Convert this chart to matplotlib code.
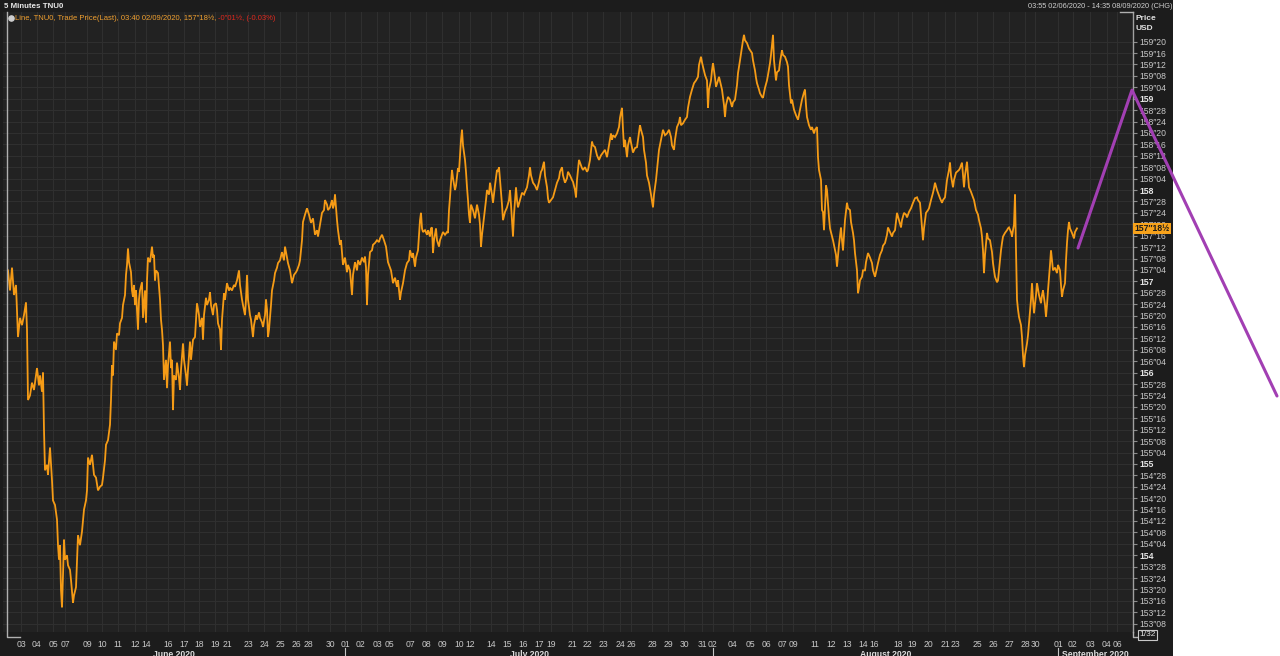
import matplotlib
matplotlib.use("Agg")
import matplotlib.pyplot as plt
from matplotlib.patches import Rectangle
import numpy as np

plt.rcParams['font.family'] = ['Liberation Sans', 'DejaVu Sans']

# ---------------- data (session position along the time axis, price in USD) -------------
t_seg1 = [8,10,12,14,16,18,20,22,24,26,27,28,30,32,34,37,39,40,42,43,44,45,47,48,50,52,53,55,57,58,
          59,60,61,62,63,64,65,67,68,70,71,73,74,76,77,78,80,82,84,86,87,88,90,92,94,96,98,100,102,103,
          105,106,108,110,111,112,113,114,116,117,119,120,122,123,125,126,127,128,129,131,132,133,134,135,136,137,138,139,140,142,
          143,145,146,147,148,150,152,153,154,155,156,158,160,161,162,163,164,166,167,168,170,171,172,173,174,176,177,179,180,181,
          183,184,186,187,188,190,191,193,195,196,197,199,200,202,203,204,206,207,209,210,211,213,214,216,217,218,220,221,222,224,
          225,227,229,230,232,234,235,237,239,240,242,243,245,246,247,248,250,251,253,254,256,257,259,260,262,263,265,266,267,268,
          269,271,272,274,275,277,278,280]
p_seg1 = [157.12,156.90,157.15,156.85,156.96,156.39,156.60,156.52,156.63,156.77,156.47,155.70,155.75,155.89,155.81,156.05,155.86,155.97,155.79,156.00,
          155.37,154.93,154.99,154.88,155.18,154.82,154.60,154.55,154.39,154.11,153.95,154.11,153.62,153.43,153.78,154.17,153.95,154.00,153.89,153.84,
          153.73,153.48,153.56,153.65,153.95,154.22,154.11,154.26,154.50,154.60,154.71,155.07,154.99,155.10,154.88,154.85,154.71,154.75,154.77,154.85,
          155.04,155.21,155.26,155.43,155.70,156.08,155.97,156.34,156.25,156.43,156.41,156.54,156.60,156.74,156.85,157.07,157.18,157.36,157.21,157.10,
          156.90,156.83,156.96,156.74,156.90,156.69,156.47,156.80,156.90,156.99,156.60,156.90,156.55,157.01,157.26,157.21,157.38,157.26,157.29,157.01,
          157.12,157.09,156.80,156.58,156.47,156.30,155.92,156.14,155.83,156.08,156.34,156.05,156.14,155.59,155.97,155.92,156.11,155.94,155.81,156.03,
          156.32,156.14,155.97,155.86,156.03,156.34,156.14,156.36,156.39,156.58,156.76,156.63,156.50,156.60,156.36,156.63,156.82,156.74,156.80,156.88,
          156.74,156.63,156.74,156.76,156.69,156.54,156.47,156.25,156.58,156.87,156.80,156.98,156.90,156.93,156.90,156.96,156.94,157.01,157.12,156.96,
          156.80,156.74,156.63,156.80,157.07,156.80,156.63,156.58,156.39,156.52,156.63,156.58,156.66,156.60,156.55,156.50,156.63,156.80,156.69,156.39,
          156.47,156.74,156.90,157.01,157.09,157.15,157.20,157.23]

t_seg2 = [282,284,285,287,288,290,292,294,296,297,299,300,302,303,305,307,309,311,313,315,317,318,320,322,324,325,327,328,330,332,
          333,334,335,337,338,340,341,343,345,347,348,350,352,353,355,357,358,360,362,364,365,366,367,368,370,372,373,375,377,379,
          380,382,384,386,388,389,391,393,395,397,398,400,401,403,405,407,409,410,412,413,415,416,418,419,420,421,422,423,425,427,
          428,430,431,432,433,434,436,437,439,440,442,443,445,447,448,449,450,451,452,453,455,456,458,459,460,461,462,463,465,466,
          467,468,469,470,471,473,475,477,479,480,481,482,484,486,487,489,490,492,493,495,497,498,499,500,501,502,503,505,507,509,
          510,511,513,514,516,517,518,520,522,524,525,527,529,530,531,533,535,537,539,541,542,544,545,547,548,549,551,553,555,557,
          559,560,562,563,565,567,568,570,572,573,575,576,577,579]
p_seg2 = [157.32,157.23,157.38,157.26,157.20,157.12,156.98,157.07,157.10,157.12,157.18,157.23,157.45,157.65,157.73,157.80,157.73,157.64,157.69,157.51,
          157.56,157.49,157.62,157.75,157.78,157.89,157.84,157.78,157.81,157.89,157.80,157.84,157.95,157.67,157.56,157.40,157.45,157.18,157.26,157.10,
          157.18,157.12,156.85,157.07,157.21,157.12,157.23,157.18,157.26,157.21,157.27,157.15,156.74,157.07,157.32,157.34,157.40,157.42,157.45,157.43,
          157.47,157.51,157.45,157.38,157.21,157.18,157.12,156.98,157.04,156.94,157.01,156.80,156.88,156.98,157.12,157.20,157.23,157.34,157.26,157.31,
          157.16,157.26,157.34,157.51,157.67,157.75,157.58,157.54,157.56,157.51,157.56,157.49,157.58,157.59,157.31,157.45,157.58,157.45,157.38,157.45,
          157.51,157.54,157.51,157.54,157.53,157.78,157.92,158.08,158.22,158.13,158.00,158.05,158.24,158.20,158.38,158.55,158.66,158.49,158.33,158.20,
          158.03,157.89,157.73,157.64,157.84,157.78,157.69,157.84,157.73,157.62,157.38,157.51,157.70,157.89,158.00,157.95,158.08,157.95,157.86,158.05,
          158.22,158.20,158.25,158.11,157.97,157.84,157.67,157.76,157.81,157.89,158.00,157.84,157.49,157.73,158.03,157.89,157.81,157.89,157.97,157.95,
          157.98,158.03,158.16,158.25,158.16,158.08,158.05,158.00,158.09,158.20,158.22,158.31,158.16,158.03,157.91,157.86,157.89,157.92,158.00,158.08,
          158.13,158.20,158.25,158.16,158.08,158.13,158.20,158.16,158.11,158.09,158.00,157.92,158.11,158.33]

t_seg3 = [580,582,583,585,587,588,590,592,593,595,597,599,601,603,605,607,609,611,612,613,615,617,619,620,621,622,623,624,625,627,
          628,630,631,633,635,637,638,640,641,643,644,646,647,649,651,653,654,656,657,659,661,663,665,667,669,671,672,674,675,677,
          679,680,681,683,685,687,688,690,692,694,696,698,699,701,702,703,705,707,708,709,711,712,713,715,716,718,719,721,722,724,
          725,726,728,730,732,733,735,737,738,740,742,743,744,745,747,749,752,753,755,756,757,759,760,762,763,765,767,768,770,771,
          772,773,774,776,777,779,780,782,783,785,787,788,789,791,792,794,796,798,800,802,804,805,806,807,809,811,812,814,815,817,
          818,819,821,822,823,824,826,827,829]
p_seg3 = [158.30,158.24,158.22,158.25,158.20,158.22,158.33,158.53,158.49,158.47,158.38,158.33,158.38,158.41,158.44,158.36,158.49,158.62,158.55,158.60,
          158.58,158.62,158.69,158.79,158.85,158.90,158.66,158.47,158.55,158.36,158.49,158.58,158.52,158.41,158.46,158.47,158.55,158.71,158.66,158.58,
          158.44,158.30,158.16,158.08,157.95,157.81,157.95,158.11,158.22,158.44,158.55,158.66,158.60,158.62,158.66,158.58,158.49,158.44,158.55,158.69,
          158.74,158.80,158.71,158.73,158.77,158.80,158.90,159.02,159.10,159.17,159.20,159.24,159.37,159.46,159.40,159.35,159.26,159.20,158.90,159.10,
          159.20,159.31,159.39,159.23,159.13,159.20,159.24,159.15,159.10,158.93,158.80,158.93,159.02,158.99,158.91,158.96,158.99,159.15,159.28,159.42,
          159.57,159.64,159.70,159.64,159.61,159.55,159.50,159.42,159.31,159.23,159.17,159.10,159.06,159.02,159.01,159.12,159.20,159.26,159.39,159.48,
          159.59,159.70,159.42,159.20,159.29,159.31,159.40,159.53,159.48,159.46,159.40,159.35,159.15,158.95,158.99,158.88,158.82,158.77,158.88,158.99,
          159.07,159.10,158.93,158.80,158.71,158.66,158.69,158.62,158.66,158.69,158.36,158.22,158.11,157.78,157.76,157.56,158.05,158.00,157.70]

t_seg4 = [830,832,833,835,836,837,839,841,842,843,845,847,848,850,851,853,854,855,857,858,859,860,862,863,865,866,868,870,872,873,
          875,877,878,880,882,883,885,887,888,890,892,893,895,896,897,899,901,902,904,906,907,909,911,913,915,917,918,920,921,923,
          924,926,928,929,931,933,934,935,937,938,940,942,943,945,946,947,949,950,951,953,954,956,957,959,960,962,963,964,965,967,
          968,969,971,973,974,976,978,979,981,982,983,984,985,987,988,990,992,993,994,995,997,998,999,1001,1002,1003,1005,1007,1008,1009,
          1011,1012,1013,1014,1015,1016,1017,1018,1019,1021,1022,1023,1024,1025,1027,1028,1029,1031,1032,1033,1034,1036,1037,1039,1041,1042,1043,1045,1046,1047,
          1048,1050,1051,1052,1053,1055,1057,1058,1060,1061,1062,1063,1065,1066,1067,1068,1069,1070,1072,1073,1074,1075,1077]
p_seg4 = [157.58,157.49,157.45,157.34,157.29,157.16,157.40,157.59,157.45,157.34,157.67,157.86,157.80,157.78,157.65,157.53,157.45,157.31,157.12,156.87,
          156.93,157.01,157.05,157.12,157.12,157.21,157.31,157.26,157.20,157.12,157.05,157.15,157.20,157.29,157.34,157.39,157.42,157.51,157.59,157.54,
          157.49,157.53,157.56,157.65,157.75,157.67,157.59,157.67,157.75,157.73,157.70,157.76,157.80,157.86,157.91,157.92,157.89,157.86,157.73,157.45,
          157.58,157.75,157.78,157.80,157.89,157.97,158.02,158.08,158.00,157.97,157.91,157.86,157.89,157.92,158.02,158.11,158.22,158.30,158.16,158.03,
          158.11,158.19,158.20,158.22,158.24,158.30,158.16,158.03,158.16,158.31,158.16,158.03,157.98,157.92,157.89,157.78,157.73,157.67,157.58,157.49,
          157.34,157.09,157.29,157.53,157.47,157.45,157.32,157.20,157.12,157.05,156.99,157.01,157.12,157.34,157.42,157.49,157.53,157.56,157.58,157.59,
          157.54,157.49,157.56,157.62,157.95,157.34,156.80,156.69,156.61,156.52,156.39,156.19,156.06,156.19,156.32,156.41,156.54,156.80,156.98,156.80,
          156.65,156.85,156.98,156.85,156.76,156.85,156.90,156.74,156.61,156.74,156.90,157.18,157.34,157.23,157.12,157.15,157.09,157.18,157.12,156.96,
          156.83,156.90,156.98,157.23,157.42,157.56,157.65,157.58,157.53,157.50,157.47,157.54,157.58]

# drawn-on annotation (purple stroke): session position and price of its vertices
stroke_t = [1078, 1132, 1277]
stroke_p = [157.365, 159.095, 155.744]

last_price = 157.578          # 157-18+
last_label = "157\u203318\u00bd"

# date axis: session positions of the day labels and their text
date_pos = [21,37,53,65,87,102,118,135,146,168,184,199,215,227,248,264,280,296,308,330,
            345,361,377,389,410,426,442,459,470,491,507,523,539,551,572,587,603,620,631,652,668,684,702,
            713,733,750,766,782,793,815,831,847,863,874,898,912,928,945,955,977,993,1009,1025,1035,
            1058,1073,1090,1107,1117]
date_lab = ['03','04','05','07','09','10','11','12','14','16','17','18','19','21','23','24','25','26','28','30',
            '01','02','03','05','07','08','09','10','12','14','15','16','17','19','21','22','23','24','26','28','29','30','31',
            '02','04','05','06','07','09','11','12','13','14','16','18','19','20','21','23','25','26','27','28','30',
            '01','02','03','04','06']
month_names = ['June 2020', 'July 2020', 'August 2020', 'September 2020']
month_start_idx = [20, 43, 64]   # index in date_pos where a new month begins

t_all = np.array(t_seg1 + t_seg2 + t_seg3 + t_seg4, dtype=float)
p_all = np.array(p_seg1 + p_seg2 + p_seg3 + p_seg4, dtype=float)

# ---------------- figure ----------------
W, H = 1280, 656
fig = plt.figure(figsize=(W / 100, H / 100), dpi=100, facecolor='white')
PANEL = '#1c1c1c'
fig.patches.append(Rectangle((0, 0), 1173 / W, 1, transform=fig.transFigure,
                             facecolor=PANEL, edgecolor='none', zorder=-10))

ax_l, ax_r, ax_t, ax_b = 3, 1133, 12, 632
ax = fig.add_axes([ax_l / W, 1 - ax_b / H, (ax_r - ax_l) / W, (ax_b - ax_t) / H])
ax.set_zorder(1)
ax.set_facecolor('#222222')
x0, x1 = 3, 1133
ax.set_xlim(x0, x1)
ax.set_ylim(153.159, 159.95)

# grid
yt = np.arange(153.25, 159.626, 0.125)
ax.set_yticks(yt)
ax.set_xticks(date_pos)
ax.grid(True, color='#2f2f2f', lw=0.8)
ax.set_axisbelow(True)

def fmt(v):
    whole = int(np.floor(v + 1e-9))
    n32 = int(round((v - whole) * 32))
    if n32 == 0:
        return f"{whole}"
    return f"{whole}\u2033{n32:02d}"

ax.yaxis.tick_right()
ax.set_yticklabels([fmt(v) for v in yt])
ax.tick_params(axis='y', colors='#8c8c8c', labelcolor='#c8c8c8', length=3, width=0.8,
               pad=1.5, labelsize=6.2)
for lab, v in zip(ax.get_yticklabels(), yt):
    if abs(v - round(v)) < 1e-6:
        lab.set_fontweight('bold')
        lab.set_color('#e6e6e6')

ax.set_xticklabels(date_lab)
ax.tick_params(axis='x', colors='#8c8c8c', labelcolor='#c8c8c8', length=0, pad=6,
               labelsize=6.2)

for s in ['top', 'bottom', 'left']:
    ax.spines[s].set_visible(False)
ax.spines['right'].set_color('#a0a0a0')
ax.spines['right'].set_linewidth(1.0)

# frame corner marks (left border with bottom hook, right bottom hook)
trans_bx = ax.get_xaxis_transform()
ax.plot([6.5, 6.5, 20], [1.0, -0.008, -0.008], transform=trans_bx, color='#b0b0b0',
        lw=1.0, clip_on=False, zorder=5)
ax.plot([1120, 1133], [1.0, 1.0], transform=trans_bx, color='#b0b0b0', lw=1.0,
        clip_on=False, zorder=5)
ax.plot([1133, 1133, 1138], [0.0, -0.008, -0.008], transform=trans_bx, color='#b0b0b0',
        lw=1.0, clip_on=False, zorder=5)

# price line
ax.plot(t_all, p_all, color='#f59b16', lw=1.3, solid_joinstyle='miter', zorder=3)

# month labels and separators
bounds = [x0] + [date_pos[i] for i in month_start_idx] + [x1]
for i, name in enumerate(month_names):
    cx = 0.5 * (bounds[i] + bounds[i + 1])
    ax.text(cx, -0.0285, name, transform=trans_bx, ha='center', va='top',
            fontsize=6.2, fontweight='bold', color='#dcdcdc', clip_on=False)
for b in bounds[1:-1]:
    ax.plot([b, b], [-0.026, -0.045], transform=trans_bx, color='#c8c8c8', lw=0.8,
            clip_on=False)

# last price tag
ax.text(1.0015, last_price, last_label, transform=ax.get_yaxis_transform(), ha='left',
        va='center', fontsize=6.2, fontweight='bold', color='#1a1a1a', clip_on=False,
        bbox=dict(boxstyle='square,pad=0.15', facecolor='#f7a21b', edgecolor='none'),
        zorder=10)

# purple hand-drawn stroke
ax.plot(stroke_t, stroke_p, color='#a23fb3', lw=2.2, clip_on=False, zorder=12,
        solid_capstyle='round')

# legend line at top-left
ax.scatter([0.0075], [0.9905], transform=ax.transAxes, s=14, color='#cfcfcf', zorder=6,
           clip_on=False)
t1 = ax.text(0.0105, 0.9905, "Line, TNU0, Trade Price(Last), 03:40 02/09/2020, 157\u203318\u00bd, ",
             transform=ax.transAxes, ha='left', va='center', fontsize=5.5, color='#f0a030')
ax.annotate("-0\u203301\u00bd, (-0.03%)", xy=(1, 0.5), xycoords=t1, ha='left', va='center',
            fontsize=5.5, color='#e0281e')

# header texts
fig.text(4 / W, 1 - 6 / H, "5 Minutes TNU0", ha='left', va='center', fontsize=5.7,
         fontweight='bold', color='#e8e8e8')
fig.text(1172 / W, 1 - 6 / H, "03:55 02/06/2020 - 14:35 08/09/2020 (CHG)", ha='right',
         va='center', fontsize=5.3, color='#cfcfcf')
fig.text(1136 / W, 1 - 18 / H, "Price", ha='left', va='center', fontsize=6.0,
         fontweight='bold', color='#e0e0e0')
fig.text(1136 / W, 1 - 28 / H, "USD", ha='left', va='center', fontsize=6.0,
         fontweight='bold', color='#e0e0e0')
fig.text(1139 / W, 1 - 635 / H, "1/32", ha='left', va='center', fontsize=6.0,
         color='#e0e0e0', bbox=dict(boxstyle='square,pad=0.15', facecolor=PANEL,
                                     edgecolor='#c8c8c8', lw=0.8))

fig.savefig('out.png', dpi=100, facecolor='white')
